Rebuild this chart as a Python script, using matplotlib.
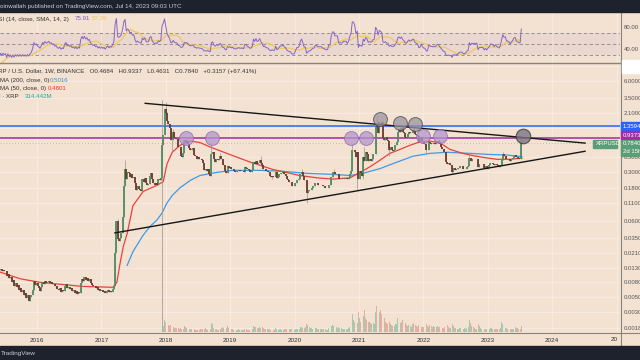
"""XRP/USD weekly chart with RSI pane, moving averages and a symmetrical triangle."""
import numpy as np
import pandas as pd
import matplotlib
matplotlib.use("Agg")
import matplotlib.pyplot as plt
from matplotlib.patches import Rectangle
from matplotlib.transforms import Affine2D
from matplotlib.ticker import NullLocator

### DATA ####
# weekly closes (Monday weeks), one list per calendar year
close_2015 = [0.0125, 0.0118, 0.0121, 0.0112, 0.0110,
              0.0114, 0.0106, 0.0105, 0.0110,
              0.0117, 0.0112, 0.0118, 0.0122,
              0.0119, 0.0126, 0.0117, 0.0121, 0.0115,
              0.0117, 0.0098, 0.0106, 0.0092,
              0.0095, 0.0080, 0.0086, 0.0072, 0.0078,
              0.0069, 0.0073, 0.0063, 0.0067,
              0.0058, 0.0062, 0.0053, 0.0056,
              0.0048, 0.0052, 0.0044, 0.0049, 0.0053,
              0.0062, 0.0083, 0.0074, 0.0078]
close_2016 = [0.0070, 0.0066, 0.0061, 0.0068,
              0.0080, 0.0076, 0.0084, 0.0078, 0.0081,
              0.0085, 0.0079, 0.0081, 0.0075,
              0.0077, 0.0070, 0.0072, 0.0065,
              0.0063, 0.0066, 0.0059, 0.0062, 0.0060,
              0.0070, 0.0075, 0.0066, 0.0069,
              0.0064, 0.0066, 0.0060, 0.0062,
              0.0057, 0.0061, 0.0055, 0.0058, 0.0056,
              0.0078, 0.0090, 0.0084, 0.0094,
              0.0087, 0.0092, 0.0085, 0.0088, 0.0078,
              0.0074, 0.0070, 0.0072, 0.0066,
              0.0068, 0.0062, 0.0065, 0.0060]
close_2017 = [0.0063, 0.0059, 0.0061, 0.0056, 0.0060,
              0.0063, 0.0058, 0.0061, 0.0059,
              0.0064, 0.0072, 0.0210, 0.0600,
              0.0330, 0.0310, 0.0340, 0.0410,
              0.0680, 0.1900, 0.3300, 0.2400, 0.3000,
              0.2900, 0.2600, 0.2800, 0.2500,
              0.2600, 0.2100, 0.1700, 0.1900, 0.1750,
              0.1700, 0.1600, 0.2400, 0.2200,
              0.2500, 0.2100, 0.2000, 0.2050,
              0.2700, 0.2900, 0.2400, 0.2100, 0.2000,
              0.2100, 0.2000, 0.2400, 0.2300,
              0.2500, 0.7400, 1.0200, 2.4500]
close_2018 = [2.10, 1.65, 1.45, 1.27, 0.88,
              0.87, 1.12, 0.93, 0.90,
              0.89, 0.68, 0.70, 0.51,
              0.49, 0.56, 0.86, 0.80, 0.85,
              0.75, 0.66, 0.62, 0.65,
              0.67, 0.53, 0.52, 0.47,
              0.49, 0.47, 0.46, 0.45, 0.41,
              0.32, 0.33, 0.31, 0.33,
              0.28, 0.27, 0.55, 0.58,
              0.46, 0.42, 0.46, 0.45, 0.46,
              0.51, 0.46, 0.38, 0.38,
              0.31, 0.29, 0.37, 0.35, 0.36]
close_2019 = [0.33, 0.34, 0.31, 0.30,
              0.30, 0.31, 0.32, 0.31,
              0.31, 0.31, 0.30, 0.36,
              0.35, 0.33, 0.32, 0.30, 0.30,
              0.32, 0.42, 0.39, 0.44,
              0.40, 0.41, 0.45, 0.41,
              0.38, 0.33, 0.34, 0.31, 0.31,
              0.30, 0.27, 0.26, 0.27,
              0.26, 0.26, 0.30, 0.25, 0.26,
              0.28, 0.29, 0.29, 0.30,
              0.28, 0.27, 0.24, 0.23,
              0.22, 0.22, 0.19, 0.19, 0.19]
close_2020 = [0.21, 0.23, 0.23, 0.24,
              0.28, 0.30, 0.27, 0.23,
              0.23, 0.15, 0.16, 0.17, 0.17,
              0.18, 0.19, 0.19, 0.21,
              0.21, 0.20, 0.20, 0.20,
              0.20, 0.19, 0.19, 0.18, 0.18,
              0.18, 0.20, 0.20, 0.26,
              0.30, 0.30, 0.28, 0.28, 0.28,
              0.24, 0.24, 0.24, 0.24,
              0.25, 0.25, 0.25, 0.24,
              0.25, 0.28, 0.31, 0.62, 0.62,
              0.59, 0.50, 0.58, 0.24]
close_2021 = [0.31, 0.29, 0.27, 0.49,
              0.43, 0.58, 0.55, 0.43,
              0.47, 0.44, 0.46, 0.54, 0.55,
              1.38, 1.32, 1.08, 1.58,
              1.55, 1.48, 0.92, 0.88, 0.95,
              0.86, 0.85, 0.63, 0.70,
              0.62, 0.60, 0.62, 0.73,
              0.82, 1.15, 1.23, 1.15, 1.27,
              1.13, 1.08, 0.95, 0.94,
              1.06, 1.14, 1.08, 1.10,
              1.20, 1.18, 1.05, 1.03, 1.00,
              0.82, 0.83, 0.96, 0.84]
close_2022 = [0.76, 0.76, 0.62, 0.62, 0.82,
              0.80, 0.77, 0.76, 0.78,
              0.76, 0.78, 0.83, 0.82,
              0.75, 0.70, 0.64, 0.59,
              0.58, 0.42, 0.40, 0.41, 0.38,
              0.38, 0.30, 0.35, 0.32,
              0.33, 0.33, 0.35, 0.37,
              0.37, 0.37, 0.33, 0.33, 0.34,
              0.36, 0.37, 0.48, 0.44,
              0.47, 0.46, 0.47, 0.46, 0.47,
              0.36, 0.39, 0.39, 0.39,
              0.39, 0.35, 0.37, 0.34]
close_2023 = [0.36, 0.38, 0.41, 0.41, 0.40,
              0.38, 0.40, 0.38, 0.37,
              0.36, 0.38, 0.45, 0.54,
              0.51, 0.52, 0.47, 0.47,
              0.46, 0.43, 0.46, 0.48, 0.52,
              0.53, 0.49, 0.48, 0.47,
              0.4684, 0.7840]
last_week = "2023-07-10"

# notable wick extremes (week start -> price)
wick_highs = {"2017-04-03": 0.064, "2017-05-15": 0.45, "2017-12-11": 3.30,
              "2018-01-01": 3.00, "2018-01-08": 2.20, "2018-02-12": 1.25,
              "2018-04-23": 0.96, "2018-05-07": 0.86, "2018-09-17": 0.78,
              "2018-11-05": 0.56, "2019-06-24": 0.51, "2020-02-10": 0.34,
              "2020-08-10": 0.33, "2020-11-23": 0.78, "2021-02-01": 0.69,
              "2021-04-12": 1.96, "2021-05-17": 1.60, "2021-09-06": 1.41,
              "2021-11-08": 1.35, "2022-03-28": 0.91, "2022-09-19": 0.56,
              "2023-03-27": 0.58, "2023-07-10": 0.9337}
wick_lows = {"2017-12-11": 0.0005, "2018-02-05": 0.58, "2019-08-26": 0.24,
             "2020-03-09": 0.11, "2020-12-21": 0.17, "2021-01-25": 0.24,
             "2021-06-21": 0.51, "2022-01-17": 0.55, "2022-06-13": 0.29,
             "2023-07-10": 0.4631}

# weekly volume in millions, from week of 2017-12-18
vol_2017 = [300, 600]
vol_2018 = [500, 400, 350, 300, 350, 300, 250, 200, 200, 200, 200, 150, 200,
            150, 150, 300, 250, 200, 200, 150, 150, 150, 150, 150, 100, 100,
            100, 100, 150, 150, 150, 150, 200, 150, 100, 150, 150, 450, 400,
            200, 150, 150, 100, 100, 150, 200, 250, 200, 200, 200, 300, 200, 150]
vol_2019 = [150, 150, 100, 100, 100, 100, 150, 100, 100, 100, 100, 150, 150,
            100, 100, 100, 100, 150, 300, 250, 250, 200, 200, 250, 200, 250,
            200, 150, 150, 150, 150, 150, 100, 100, 100, 100, 200, 150, 100,
            150, 150, 100, 100, 150, 150, 150, 150, 150, 150, 150, 100, 100]
vol_2020 = [150, 150, 150, 150, 250, 250, 200, 200, 250, 400, 350, 250, 200,
            200, 150, 150, 200, 200, 150, 150, 150, 150, 150, 150, 150, 100,
            100, 200, 150, 300, 350, 300, 250, 250, 200, 250, 200, 200, 150,
            150, 150, 150, 150, 200, 250, 400, 900, 600, 500, 400, 450, 1000]
vol_2021 = [700, 500, 400, 800, 1100, 700, 600, 500, 500, 450, 400, 450, 400,
            1000, 1300, 900, 1000, 1100, 900, 1000, 700, 500, 450, 400, 500,
            400, 350, 300, 300, 400, 400, 700, 600, 450, 500, 600, 500, 450,
            350, 300, 350, 300, 250, 400, 450, 350, 300, 250, 350, 300, 250, 250]
vol_2022 = [250, 250, 400, 300, 250, 350, 300, 250, 300, 250, 250, 300, 250,
            250, 200, 200, 200, 250, 500, 350, 250, 200, 200, 400, 300, 200,
            200, 150, 150, 200, 200, 150, 150, 200, 150, 200, 250, 600, 450,
            300, 250, 200, 150, 150, 400, 300, 200, 150, 150, 150, 150, 150]
vol_2023 = [150, 150, 200, 200, 150, 150, 150, 150, 150, 150, 200, 500, 400,
            250, 200, 200, 150, 150, 150, 150, 150, 150, 250, 200, 200, 150,
            150, 314]

# moving averages: (decimal year, price)
ma50_t = [2015.43, 2015.74, 2016.05, 2016.71, 2017.18, 2017.24, 2017.29, 2017.34,
          2017.40, 2017.49, 2017.65, 2017.86, 2017.96, 2018.02, 2018.10, 2018.22,
          2018.38, 2018.53, 2018.69, 2019.04, 2019.31, 2019.66, 2020.08, 2020.35,
          2020.60, 2020.86, 2021.02, 2021.17, 2021.33, 2021.48, 2021.64, 2021.79,
          2021.95, 2022.10, 2022.26, 2022.41, 2022.61, 2022.77, 2022.93, 2023.14,
          2023.34, 2023.53]
ma50_v = [0.0112, 0.0090, 0.0080, 0.0070, 0.0068, 0.0080, 0.015, 0.026,
          0.040, 0.10, 0.16, 0.195, 0.22, 0.40, 0.58, 0.73,
          0.84, 0.80, 0.69, 0.52, 0.42, 0.33, 0.27, 0.25,
          0.24, 0.25, 0.30, 0.36, 0.45, 0.56, 0.64, 0.73,
          0.82, 0.84, 0.79, 0.64, 0.56, 0.52, 0.49, 0.46,
          0.46, 0.4801]
ma200_t = [2017.40, 2017.49, 2017.65, 2017.75, 2017.86, 2017.94, 2018.02, 2018.10,
           2018.22, 2018.38, 2018.53, 2018.80, 2019.04, 2019.46, 2019.82, 2020.19,
           2020.60, 2020.86, 2021.06, 2021.33, 2021.59, 2021.84, 2022.10, 2022.37,
           2022.72, 2023.03, 2023.30, 2023.53]
ma200_v = [0.014, 0.022, 0.038, 0.050, 0.062, 0.078, 0.11, 0.14,
           0.18, 0.23, 0.27, 0.30, 0.32, 0.32, 0.31, 0.29,
           0.28, 0.27, 0.29, 0.34, 0.42, 0.51, 0.56, 0.58,
           0.56, 0.54, 0.53, 0.5016]

# drawings
upper_line_t = [2017.68, 2024.51]
upper_line_p = [2.91, 0.785]
lower_line_t = [2017.21, 2024.51]
lower_line_p = [0.0408, 0.60]
level_blue = 1.3594
level_purple = 0.9373
last_close = 0.7840
circle_t = [2018.31, 2018.72, 2020.88, 2021.11, 2021.99, 2022.26]
circle_p = [0.923, 0.923, 0.923, 0.923, 0.984, 0.984]
grey_circle_t = [2021.33, 2021.64, 2021.87]
grey_circle_p = [1.71, 1.51, 1.46]
last_circle_t = [2023.54]
last_circle_p = [1.0]

price_ticks = [10.0, 6.0, 3.5, 2.1, 1.3, 0.8, 0.5, 0.3, 0.18, 0.11, 0.06, 0.035,
               0.021, 0.013, 0.008, 0.005, 0.003, 0.0018]
hidden_ticks = [10.0, 1.3, 0.8]  # covered by the price tags on the chart
year_ticks = list(range(2016, 2026))
##############

BG = "#f3e2d2"
DARK = "#1e222d"
GRID = "#f8ece2"
UP = "#4f8c62"
DOWN = "#6c3a2c"
W, H = 640, 360

closes = np.array(close_2015 + close_2016 + close_2017 + close_2018 + close_2019
                  + close_2020 + close_2021 + close_2022 + close_2023)
dates = pd.date_range(end=last_week, periods=len(closes), freq="W-MON")
t = dates.year + (dates.dayofyear - 1) / 365.25
opens = np.r_[closes[0], closes[:-1]]
highs = np.maximum(opens, closes)
lows = np.minimum(opens, closes)
for k, v in wick_highs.items():
    highs[dates.get_loc(pd.Timestamp(k))] = v
for k, v in wick_lows.items():
    lows[dates.get_loc(pd.Timestamp(k))] = v

# RSI (14) with SMA(14) signal
s = pd.Series(closes)
d = s.diff()
gain = d.clip(lower=0).ewm(alpha=1 / 14, adjust=False).mean()
loss = (-d.clip(upper=0)).ewm(alpha=1 / 14, adjust=False).mean()
rsi = 100 - 100 / (1 + gain / loss)
rsi_ma = rsi.rolling(14).mean()

vols = np.array(vol_2017 + vol_2018 + vol_2019 + vol_2020 + vol_2021 + vol_2022 + vol_2023, float)
vt = t[-len(vols):]
vup = (closes >= opens)[-len(vols):]

x0 = 2016 - 37 / 64.4
x1 = x0 + 620 / 64.4

fig = plt.figure(figsize=(6.4, 3.6), dpi=100, facecolor=BG)
plt.rcParams["font.family"] = ["Liberation Sans", "DejaVu Sans"]
pix = Affine2D().scale(1 / W, -1 / H).translate(0, 1) + fig.transFigure


def box(xa, ya, xb, yb):
    return [xa / W, 1 - yb / H, (xb - xa) / W, (yb - ya) / H]


ax_rsi = fig.add_axes(box(0, 13, 620, 62.5))
ax = fig.add_axes(box(0, 63.5, 620, 332))
vax = ax.twinx()
for a in (ax, ax_rsi):
    a.set_facecolor(BG)
    for sp in a.spines.values():
        sp.set_visible(False)
    a.set_xlim(x0, x1)
    a.set_xticks(year_ticks)
    a.grid(True, color=GRID, lw=0.7)
    a.set_axisbelow(True)

# RSI pane
ax_rsi.set_ylim(16.4, 105.5)
ax_rsi.axhspan(30, 70, color="#7e57c2", alpha=0.07, lw=0)
for lvl in (70, 50, 30):
    ax_rsi.axhline(lvl, color="#8a8580", lw=0.6, ls=(0, (4, 3)))
ax_rsi.plot(t, rsi_ma, color="#efc963", lw=1.0)
ax_rsi.plot(t, rsi, color="#8565c4", lw=0.7)
ax_rsi.yaxis.tick_right()
ax_rsi.set_yticks([80, 40])
ax_rsi.set_yticklabels(["80.00", "40.00"])
ax_rsi.tick_params(axis="y", length=0, pad=3, labelsize=4.3, labelcolor="#555555")
ax_rsi.tick_params(axis="x", length=0, labelbottom=False)
ax_rsi.grid(False, axis="y")

# price pane
ax.set_yscale("log")
ax.set_ylim(0.00156, 10.8)
ax.yaxis.set_minor_locator(NullLocator())
ax.yaxis.tick_right()
ax.set_yticks(price_ticks)
ax.set_yticklabels(["" if v in hidden_ticks else f"{v:.4f}" for v in price_ticks])
ax.tick_params(axis="y", length=0, pad=3, labelsize=4.3, labelcolor="#555555")
ax.set_xticklabels([str(y) for y in year_ticks[:-1]] + [""])
ax.tick_params(axis="x", length=0, pad=4, labelsize=4.6, labelcolor="#333333")

# volume overlay
vax.set_ylim(0, 50 * 268)
vax.axis("off")
vax.bar(vt[vup], vols[vup], width=0.014, color="#86c3a2", alpha=0.75, lw=0)
vax.bar(vt[~vup], vols[~vup], width=0.014, color="#e79b8f", alpha=0.75, lw=0)

# levels
ax.axhline(level_blue, color="#2962ff", lw=1.1, zorder=2)
ax.axhline(level_purple, color="#a32aa6", lw=1.1, zorder=2)
ax.axhline(last_close, color="#b8b2ac", lw=0.7, ls=(0, (1, 2)), zorder=2)

# moving averages
ax.plot(ma200_t, ma200_v, color="#3d9be9", lw=0.9, zorder=3)
ax.plot(ma50_t, ma50_v, color="#e8413c", lw=0.9, zorder=3)

# candles
up = closes >= opens
ax.vlines(t, lows, highs, color="#9c948c", lw=0.5, zorder=4)
ax.vlines(t[up], opens[up], closes[up], color=UP, lw=1.3, zorder=4)
ax.vlines(t[~up], closes[~up], opens[~up], color=DOWN, lw=1.3, zorder=4)

# triangle
ax.plot(upper_line_t, upper_line_p, color="#161616", lw=1.0, zorder=5)
ax.plot(lower_line_t, lower_line_p, color="#161616", lw=1.0, zorder=5)

# circles
ax.scatter(circle_t, circle_p, s=100, color="#b596cf", alpha=0.75,
           edgecolors="#8d6aae", linewidths=0.7, zorder=6)
ax.scatter(grey_circle_t, grey_circle_p, s=100, color="#9d93a0", alpha=0.75,
           edgecolors="#4a4548", linewidths=0.7, zorder=6)
ax.scatter(last_circle_t, last_circle_p, s=110, color="#7d7385", alpha=0.8,
           edgecolors="#3a3538", linewidths=0.8, zorder=6)

# frame lines and bars
fig.lines.append(plt.Line2D([620.5, 620.5], [12, 346], transform=pix, color="#8b8278", lw=0.8))
fig.lines.append(plt.Line2D([0, 640], [63, 63], transform=pix, color="#8b8278", lw=1.0))
fig.lines.append(plt.Line2D([0, 640], [332.5, 332.5], transform=pix, color="#8b8278", lw=0.8))
fig.patches.append(Rectangle((0, 0), 640, 12, transform=pix, color=DARK, zorder=3))
fig.patches.append(Rectangle((0, 346), 640, 14, transform=pix, color=DARK, zorder=3))
fig.text(0, 6.5, "oinwallah published on TradingView.com, Jul 14, 2023 09:03 UTC",
         transform=pix, color="#c9ccd4", fontsize=4.5, va="center", zorder=4)
fig.text(1, 353, "TradingView", transform=pix, color="#c9ccd4", fontsize=4.6,
         va="center", zorder=4)
fig.text(618, 339.5, "20", transform=pix, color="#333333", fontsize=4.6,
         va="center", ha="right", zorder=4)


# right-hand price labels
def tag(y0, y1, color, lines, xa=620.5, xb=640):
    fig.patches.append(Rectangle((xa, y0), xb - xa, y1 - y0, transform=pix, color=color, zorder=4))
    step = (y1 - y0) / len(lines)
    for i, txt in enumerate(lines):
        fig.text(xa + 2.5, y0 + step * (i + 0.5), txt, transform=pix, color="white",
                 fontsize=4.3, va="center", zorder=5)


tag(60, 73, "white", [""], xa=622, xb=640)
tag(121.5, 131, "#2962ff", ["1.3594"])
tag(131, 139.5, "#a32aa6", ["0.9373"])
tag(139.5, 156, "#5a9e78", ["0.7840", "2d 15h"])
tag(139.5, 147.5, "#5a9e78", ["XRPUSD"], xa=593, xb=617)

# legends
fs = 4.4
fig.text(-6, 19, "RSI (14, close, SMA, 14, 2)", transform=pix, color="#333333",
         fontsize=fs, va="center")
fig.text(75, 19, "75.91", transform=pix, color="#7e57c2", fontsize=fs, va="center")
fig.text(92, 19, "57.29", transform=pix, color="#e9c860", fontsize=fs, va="center")
fig.text(-6, 72, "XRP / U.S. Dollar, 1W, BINANCE   O0.4684   H0.9337   L0.4631   C0.7840   +0.3157 (+67.41%)",
         transform=pix, color="#333333", fontsize=fs, va="center")
fig.text(0, 80.5, "MA (200, close, 0)", transform=pix, color="#333333", fontsize=fs, va="center")
fig.text(50, 80.5, "0.5016", transform=pix, color="#2196f3", fontsize=fs, va="center")
fig.text(0, 88.5, "MA (50, close, 0)", transform=pix, color="#333333", fontsize=fs, va="center")
fig.text(48, 88.5, "0.4801", transform=pix, color="#e53935", fontsize=fs, va="center")
fig.text(-8, 96.5, "Vol \u00b7 XRP", transform=pix, color="#333333", fontsize=fs, va="center")
fig.text(25, 96.5, "314.442M", transform=pix, color="#26a69a", fontsize=fs, va="center")

fig.savefig("out.png", dpi=100, facecolor=BG)
